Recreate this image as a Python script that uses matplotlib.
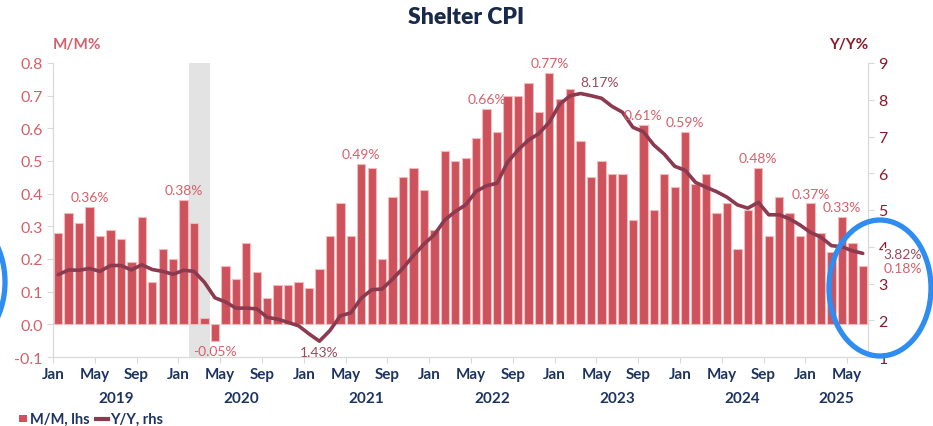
import matplotlib
matplotlib.use("Agg")
import matplotlib.pyplot as plt
from matplotlib.patches import Ellipse, Rectangle
from matplotlib.lines import Line2D
import numpy as np

plt.rcParams['font.family'] = ['Lato', 'DejaVu Sans']

# Monthly data Jan 2019 - Jun 2025
mm = [
    # 2019
    0.28, 0.34, 0.31, 0.36, 0.27, 0.29, 0.26, 0.19, 0.33, 0.13, 0.23, 0.20,
    # 2020
    0.38, 0.31, 0.02, -0.05, 0.18, 0.14, 0.25, 0.16, 0.08, 0.12, 0.12, 0.13,
    # 2021
    0.11, 0.17, 0.27, 0.37, 0.27, 0.49, 0.48, 0.20, 0.39, 0.45, 0.48, 0.41,
    # 2022
    0.29, 0.53, 0.50, 0.51, 0.57, 0.66, 0.59, 0.70, 0.70, 0.74, 0.65, 0.77,
    # 2023
    0.69, 0.72, 0.56, 0.45, 0.50, 0.46, 0.46, 0.32, 0.61, 0.35, 0.46, 0.42,
    # 2024
    0.59, 0.43, 0.46, 0.34, 0.37, 0.23, 0.35, 0.48, 0.27, 0.39, 0.34, 0.27,
    # 2025
    0.37, 0.28, 0.22, 0.33, 0.25, 0.18,
]
yy = [
    # 2019
    3.24, 3.37, 3.36, 3.41, 3.33, 3.49, 3.49, 3.37, 3.51, 3.38, 3.33, 3.25,
    # 2020
    3.36, 3.33, 3.03, 2.61, 2.50, 2.33, 2.33, 2.31, 2.08, 2.03, 1.94, 1.85,
    # 2021
    1.63, 1.43, 1.72, 2.12, 2.20, 2.60, 2.83, 2.85, 3.12, 3.42, 3.76, 4.07,
    # 2022
    4.33, 4.73, 4.96, 5.14, 5.51, 5.66, 5.73, 6.30, 6.63, 6.90, 7.08, 7.39,
    # 2023
    7.88, 8.11, 8.17, 8.11, 8.04, 7.82, 7.66, 7.25, 7.13, 6.77, 6.52, 6.19,
    # 2024
    6.08, 5.75, 5.62, 5.50, 5.35, 5.14, 5.05, 5.21, 4.87, 4.87, 4.76, 4.59,
    # 2025
    4.39, 4.26, 4.03, 4.00, 3.89, 3.82,
]
years = [2019, 2020, 2021, 2022, 2023, 2024, 2025]
month_names = ['Jan', 'May', 'Sep']
recession = (13, 15)  # Feb-Mar 2020, month indices

# labelled bars: (index, text)
mm_labels = [(3, '0.36%'), (12, '0.38%'), (29, '0.49%'), (41, '0.66%'),
             (47, '0.77%'), (56, '0.61%'), (60, '0.59%'), (67, '0.48%'),
             (72, '0.37%'), (75, '0.33%')]
mm_neg_label = (15, '-0.05%')
yy_min_label = (25, '1.43%')
yy_max_label = (50, '8.17%')

RED = '#cd525b'
RED_TXT = '#d6606a'
MAROON = '#8c3a50'
MAROON_TXT = '#8b1a2b'
NAVY = '#1d3461'
GRID = '#d9d9d9'

W, H = 933, 427
fig = plt.figure(figsize=(W / 100, H / 100), dpi=100)
ax = fig.add_axes([53 / W, 1 - 358 / H, (868 - 53) / W, (358 - 64) / H])
ax2 = ax.twinx()
ax2.set_zorder(ax.get_zorder() - 1)
ax.patch.set_visible(False)

n = len(mm)
x = np.arange(n) + 0.5
ax.axvspan(recession[0], recession[1], color='#e2e3e2', zorder=0, lw=0)
ax.bar(x, mm, width=0.8, color=RED, edgecolor='#f2b9bd', linewidth=0.8, zorder=2)
ax.set_xlim(0, n)
ax.set_ylim(-0.1, 0.8)
ax.set_yticks(np.arange(-0.1, 0.81, 0.1))
ax.set_yticklabels(['%.1f' % v for v in np.arange(-0.1, 0.81, 0.1)])

ax2.set_ylim(1, 9)
ax2.set_yticks(range(1, 10))
# Y/Y line drawn on the front axes using the right-axis scale
ax.plot(x, yy, color=MAROON, lw=2.6, zorder=3, transform=ax2.transData, solid_capstyle='round')

for a in (ax, ax2):
    for s in a.spines.values():
        s.set_color(GRID)
    a.spines['top'].set_visible(False)

ax.tick_params(axis='y', colors=GRID, labelcolor=RED_TXT, labelsize=11.5, length=4, width=0.8)
ax2.tick_params(axis='y', colors=GRID, labelcolor=MAROON_TXT, labelsize=11.5, length=4, width=0.8)

xt = list(range(0, n, 4))
ax.set_xticks(xt)
ax.set_xticklabels([month_names[(i % 12) // 4] for i in xt])
ax.tick_params(axis='x', colors=GRID, labelcolor=NAVY, labelsize=11, length=4, width=0.8, pad=3)
for lab in ax.get_xticklabels():
    lab.set_fontweight('bold')

for k, yr in enumerate(years):
    start = 12 * k
    end = min(start + 12, n)
    ax.text((start + end) / 2, -0.1 - 0.105, str(yr), ha='center', va='top',
            fontsize=11, fontweight='bold', color=NAVY)

for i, t in mm_labels:
    ax.text(i + 0.5, mm[i] + 0.012, t, ha='center', va='bottom', fontsize=10, color=RED_TXT)
i, t = mm_neg_label
ax.text(i + 0.5, mm[i] - 0.012, t, ha='center', va='top', fontsize=10, color=RED_TXT)
i, t = yy_min_label
ax.text(i + 0.5, yy[i] - 0.12, t, ha='center', va='top', fontsize=10, color='#9c4a60',
        transform=ax2.transData)
i, t = yy_max_label
ax.text(i + 0.5, yy[i] + 0.15, t, ha='left', va='bottom', fontsize=10, color='#9c4a60',
        transform=ax2.transData)
ax.text(n + 1.5, yy[-1] - 0.03, '%.2f%%' % yy[-1], ha='left', va='center', fontsize=10,
        color='#9c4a60', clip_on=False, transform=ax2.transData, zorder=5,
        bbox=dict(facecolor='white', edgecolor='none', pad=0.3))
ax.text(n + 1.5, 0.172, '%.2f%%' % mm[-1], ha='left', va='center', fontsize=10, color=RED_TXT,
        clip_on=False, zorder=5, bbox=dict(facecolor='white', edgecolor='none', pad=0.3))

fig.text(466 / W, 1 - 18 / H, 'Shelter CPI', ha='center', va='center', fontsize=16.5,
         fontweight='heavy', color='#18294a')
fig.text(53 / W, 1 - 45 / H, 'M/M%', ha='left', va='center', fontsize=11, fontweight='bold',
         color=RED_TXT)
fig.text(868 / W, 1 - 45 / H, 'Y/Y%', ha='right', va='center', fontsize=11, fontweight='bold',
         color=MAROON_TXT)

# legend
ly = 1 - 419.5 / H
fig.patches.append(Rectangle((19 / W, ly - 3.5 / H), 7.5 / W, 7.5 / H, transform=fig.transFigure,
                             color=RED, lw=0))
fig.text(30 / W, ly, 'M/M, lhs', ha='left', va='center', fontsize=10.5, fontweight='bold',
         color=NAVY)
fig.lines.append(Line2D([96 / W, 108 / W], [ly, ly], transform=fig.transFigure, color=MAROON,
                        lw=3))
fig.text(110 / W, ly, 'Y/Y, rhs', ha='left', va='center', fontsize=10.5, fontweight='bold',
         color=NAVY)

# blue ellipse annotations
for cx, cy in [(880, 289), (-46, 283)]:
    fig.patches.append(Ellipse((cx / W, 1 - cy / H), 102 / W, 136 / H, transform=fig.transFigure,
                               fill=False, edgecolor='#2f8df2', lw=3.8, zorder=10))

fig.savefig('out.png', dpi=100)
